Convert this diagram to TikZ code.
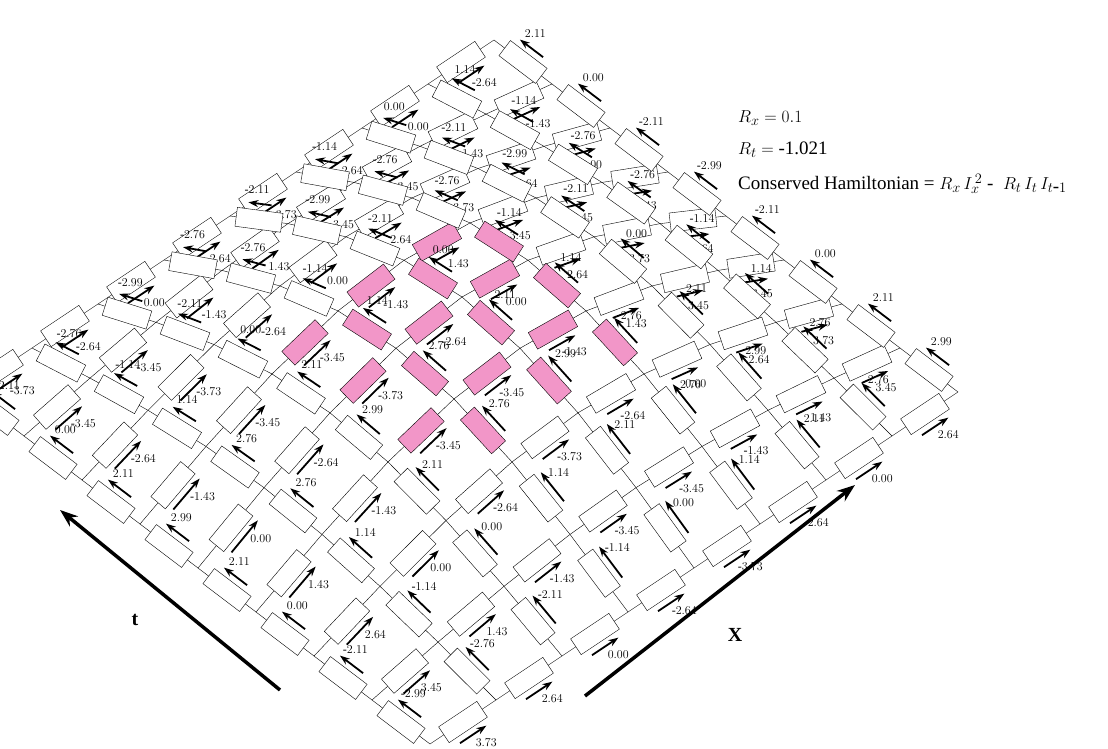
\documentclass[tikz,border=0pt]{standalone}
\usepackage{fontspec}
\setmainfont{Liberation Serif}
\usetikzlibrary{calc,arrows.meta}
\definecolor{respink}{RGB}{242,150,200}
\tikzset{
  res/.style={draw, sloped, minimum width=46pt, minimum height=19pt, inner sep=0pt},
  flow/.style={-{Stealth[length=10pt,width=7pt]}, line width=1.8pt},
  val/.style={font=\fontsize{12}{12}\selectfont, inner sep=0pt}
}
\newcommand{\resedge}[4]{%
  \draw (#1) -- node[res, fill=#4] {} (#2);
  \draw[flow] ($(#1)!0.32!(#2)!16pt!-90:(#2)$) -- ($(#1)!0.72!(#2)!16pt!-90:(#2)$);
  \node[val] at ($(#1)!0.6!(#2)!30pt!-90:(#2)$) {#3};
}
\newcommand{\fmtval}[1]{%
  \pgfmathsetmacro\av{abs(#1)}%
  \ifdim #1pt<-0.004pt -\fi\pgfmathprintnumber[fixed,fixed zerofill,precision=2]{\av}}

\begin{document}
\begin{tikzpicture}[x=1pt,y=1pt]
  \useasboundingbox (0,0) rectangle (1108,748);
  \begin{scope}
  \clip (0,0) rectangle (1108,748);
  % lattice nodes
  \foreach \i in {0,...,8}
    \foreach \j in {0,...,8} {
      \pgfmathsetmacro\px{430+66*\i-58*\j}
      \pgfmathsetmacro\py{4+44*\i+44*\j+95*sin(22.5*\i)*sin(22.5*\j)}
      \coordinate (n\i\j) at (\px,\py);
    }
  % x edges
  \foreach \i in {0,...,7}
    \foreach \j in {0,...,8} {
      \pgfmathtruncatemacro\k{\i+1}
      \pgfmathsetmacro\v{3.73*cos(45*\i+22.5*\j)}
      \pgfmathtruncatemacro\pk{and(and(\i>1,\i<5),and(\j>2,\j<6))}
      \ifnum\pk=1 \def\fc{respink}\else\def\fc{white}\fi
      \resedge{n\i\j}{n\k\j}{\fmtval{\v}}{\fc}
    }
  % t edges
  \foreach \i in {0,...,8}
    \foreach \j in {0,...,7} {
      \pgfmathtruncatemacro\k{\j+1}
      \pgfmathsetmacro\v{-2.99*cos(45*\j+22.5*\i)}
      \pgfmathtruncatemacro\pk{and(and(\i>2,\i<6),and(\j>1,\j<5))}
      \ifnum\pk=1 \def\fc{respink}\else\def\fc{white}\fi
      \resedge{n\i\j}{n\i\k}{\fmtval{\v}}{\fc}
    }
  \end{scope}
  % axes
  \coordinate (t0) at (280,58);
  \coordinate (t1) at (60,238);
  \coordinate (x0) at (585,52);
  \coordinate (x1) at (855,263);
  \draw[-{Stealth[length=18pt,width=13pt]}, line width=3.5pt] (t0) -- (t1);
  \draw[-{Stealth[length=18pt,width=13pt]}, line width=3.5pt] (x0) -- (x1);
  \node[font=\fontsize{20}{20}\selectfont\bfseries] (tlab) at (135,128) {t};
  \node[font=\fontsize{20}{20}\selectfont\bfseries] (xlab) at (735,113) {X};
  % legend
  \begin{scope}[every node/.style={anchor=west, inner sep=0pt, font=\fontsize{19}{22}\selectfont}]
  \node (rx) at (738,630) {$R_x = 0.1$};
  \node (rt) at (738,598) {$R_t = $ -1.021};
  \node (ham) at (738,564)
    {Conserved Hamiltonian = $R_x\, I_x^{\,2}$ - \ $R_t\, I_t\, I_{t\mbox{-}1}$};
  \end{scope}
\end{tikzpicture}
\end{document}
